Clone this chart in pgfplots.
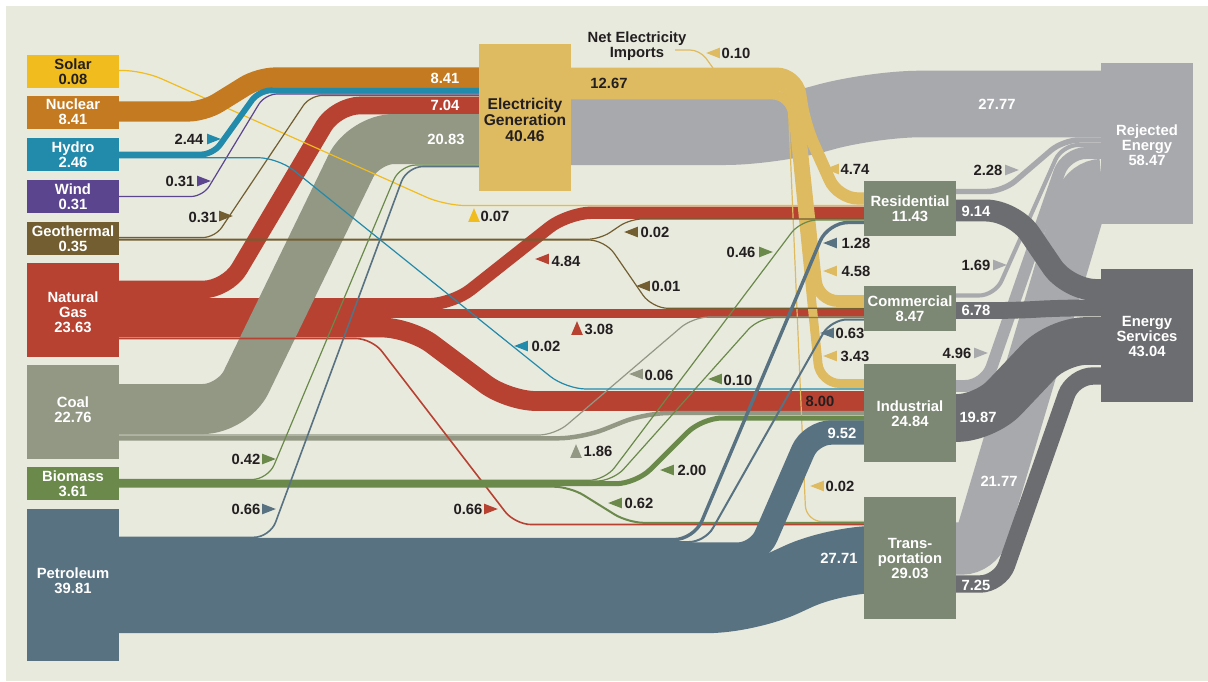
\documentclass[border=0pt]{standalone}
\usepackage{pgfplots}
\pgfplotsset{compat=1.18}
\usepackage{fontspec}
\setmainfont{Liberation Sans}
\definecolor{bg}{RGB}{232,234,222}
\definecolor{solarC}{RGB}{240,188,30}
\definecolor{nucC}{RGB}{196,122,32}
\definecolor{hydC}{RGB}{34,138,170}
\definecolor{windC}{RGB}{91,69,142}
\definecolor{geoC}{RGB}{114,94,48}
\definecolor{ngC}{RGB}{183,66,50}
\definecolor{coalC}{RGB}{146,152,132}
\definecolor{bioC}{RGB}{106,137,74}
\definecolor{petC}{RGB}{88,114,129}
\definecolor{elecC}{RGB}{222,186,96}
\definecolor{sectC}{RGB}{124,136,116}
\definecolor{rejC}{RGB}{168,169,173}
\definecolor{esC}{RGB}{108,109,112}
\definecolor{darkT}{RGB}{35,31,32}
\pgfdeclareplotmark{tR}{\pgfpathmoveto{\pgfqpoint{\pgfplotmarksize}{0pt}}\pgfpathlineto{\pgfqpoint{-\pgfplotmarksize}{0.78\pgfplotmarksize}}\pgfpathlineto{\pgfqpoint{-\pgfplotmarksize}{-0.78\pgfplotmarksize}}\pgfpathclose\pgfusepathqfill}
\pgfdeclareplotmark{tL}{\pgfpathmoveto{\pgfqpoint{-\pgfplotmarksize}{0pt}}\pgfpathlineto{\pgfqpoint{\pgfplotmarksize}{0.78\pgfplotmarksize}}\pgfpathlineto{\pgfqpoint{\pgfplotmarksize}{-0.78\pgfplotmarksize}}\pgfpathclose\pgfusepathqfill}
\pgfdeclareplotmark{tU}{\pgfpathmoveto{\pgfqpoint{0pt}{\pgfplotmarksize}}\pgfpathlineto{\pgfqpoint{0.85\pgfplotmarksize}{-\pgfplotmarksize}}\pgfpathlineto{\pgfqpoint{-0.85\pgfplotmarksize}{-\pgfplotmarksize}}\pgfpathclose\pgfusepathqfill}
\pgfplotsset{fl/.style={no markers, line cap=butt, rounded corners=#1},
  box/.style={fill=#1, draw=none, no markers},
  tri/.style 2 args={only marks, mark=#1, mark size=3.4pt, color=#2, mark options={fill=#2, draw=none}}}
\tikzset{wl/.style={font=\fontsize{7.4}{7.5}\selectfont\bfseries, align=center, inner sep=0pt, text=white},
  dl/.style={wl, text=darkT}}
\begin{document}
\begin{tikzpicture}
\begin{axis}[scale only axis, width=604pt, height=340.5pt, xmin=0, xmax=1208, ymin=0, ymax=681,
  y dir=reverse, hide axis, clip=false]
% background
\addplot[box=white] coordinates {(0,0)(1208,0)(1208,681)(0,681)};
\addplot[box=bg] coordinates {(6,6)(1208,6)(1208,681)(6,681)};
% electricity -> rejected
\addplot[fl=25pt, draw=rejC, line width=33.3pt] coordinates {(571,131.7)(775,131.7)(870,104)(1101,104)};
% sectors -> rejected
\addplot[fl=8pt, draw=rejC, line width=2.74pt] coordinates {(956,191.5)(1003,191.5)(1063,140)(1101,140)};
\addplot[fl=8pt, draw=rejC, line width=2.03pt] coordinates {(956,295.5)(995,295.5)(1062,145)(1101,145)};
\addplot[fl=10pt, draw=rejC, line width=5.95pt] coordinates {(956,386)(985,386)(1066,153)(1101,153)};
\addplot[fl=8pt, draw=rejC, line width=26.1pt] coordinates {(956,548.5)(978,548.5)(1086,185)(1101,185)};
% sectors -> energy services
\addplot[fl=14pt, draw=esC, line width=10.97pt] coordinates {(956,210.5)(1014,210.5)(1068,290)(1101,290)};
\addplot[fl=10pt, draw=esC, line width=8.4pt] coordinates {(956,310.5)(1015,310.5)(1060,308)(1101,308)};
\addplot[fl=14pt, draw=esC, line width=23.85pt] coordinates {(956,418)(985,418)(1058,341)(1101,341)};
\addplot[fl=10pt, draw=esC, line width=8.7pt] coordinates {(956,584)(1000,584)(1073,376)(1101,376)};
% natural gas
\addplot[fl=12pt, draw=ngC, line width=8.8pt] coordinates {(119,289.5)(227,289.5)(336,105.5)(479,105.5)};
\addplot[fl=12pt, draw=ngC, line width=6.2pt] coordinates {(119,304.4)(452,304.4)(568,212.7)(864,212.7)};
\addplot[fl=1pt, draw=ngC, line width=4.1pt] coordinates {(119,313.5)(864,313.5)};
\addplot[fl=14pt, draw=ngC, line width=9.9pt] coordinates {(119,327.5)(410,327.5)(508,401)(864,401)};
% coal
\addplot[fl=15pt, draw=coalC, line width=25pt] coordinates {(119,409)(233,409)(364,139)(479,139)};
\addplot[fl=8pt, draw=coalC, line width=0.6pt] coordinates {(119,435)(555,435)(693,317)(864,317)};
\addplot[fl=12pt, draw=coalC, line width=2.23pt] coordinates {(119,438.3)(582,438.3)(645,413)(864,413)};
\addplot[fl=8pt, draw=ngC, line width=0.8pt] coordinates {(119,338.5)(372,338.5)(515,524.5)(864,524.5)};
% solar
\addplot[fl=10pt, draw=solarC, line width=0.6pt] coordinates {(119,70.5)(143,70.5)(445,205.5)(864,205.5)};
% nuclear, hydro, wind, geothermal -> electricity
\addplot[fl=8pt, draw=nucC, line width=10.09pt] coordinates {(119,111.5)(204,111.5)(259,77.5)(479,77.5)};
\addplot[fl=6pt, draw=hydC, line width=2.93pt] coordinates {(119,154.5)(213,154.5)(259,90.4)(479,90.4)};
\addplot[fl=6pt, draw=windC, line width=0.6pt] coordinates {(119,196.5)(203,196.5)(265,94)(479,94)};
\addplot[fl=6pt, draw=geoC, line width=0.6pt] coordinates {(119,237.5)(215,237.5)(310,95.5)(479,95.5)};
% electricity -> sectors
\addplot[fl=10pt, draw=elecC, line width=6.1pt] coordinates {(571,73.7)(797,73.7)(805,125)(838,198.5)(864,198.5)};
\addplot[fl=10pt, draw=elecC, line width=5.9pt] coordinates {(571,84.7)(795,84.7)(818,301)(864,301)};
\addplot[fl=10pt, draw=elecC, line width=4.5pt] coordinates {(571,94.3)(791,94.3)(820,383.5)(864,383.5)};
\addplot[fl=8pt, draw=elecC, line width=0.6pt] coordinates {(571,98.8)(788,98.8)(806,521.5)(864,521.5)};
\addplot[fl=5pt, draw=elecC, line width=0.6pt] coordinates {(675,50)(700,50)(713,68)};
% geothermal -> residential, commercial
\addplot[fl=6pt, draw=geoC, line width=0.6pt] coordinates {(119,239.2)(600,239.2)(630,219)(864,219)};
\addplot[fl=8pt, draw=geoC, line width=0.6pt] coordinates {(119,240)(605,240)(652,308.3)(864,308.3)};
% hydro -> industrial
\addplot[fl=10pt, draw=hydC, line width=0.6pt] coordinates {(119,157.7)(278,157.7)(566,389)(864,389)};
% biomass
\addplot[fl=8pt, draw=bioC, line width=0.6pt] coordinates {(119,479.5)(268,479.5)(400,165)(479,165)};
\addplot[fl=8pt, draw=bioC, line width=0.6pt] coordinates {(119,480.3)(605,480.3)(801,220)(864,220)};
\addplot[fl=8pt, draw=bioC, line width=0.6pt] coordinates {(119,481)(613,481)(759,317.5)(864,317.5)};
\addplot[fl=10pt, draw=bioC, line width=2.5pt] coordinates {(119,483.7)(636,483.7)(702,418)(864,418)};
\addplot[fl=8pt, draw=bioC, line width=1pt] coordinates {(119,486.7)(570,486.7)(628,522.8)(864,522.8)};
% petroleum
\addplot[fl=8pt, draw=petC, line width=0.8pt] coordinates {(119,537.3)(270,537.3)(407,166.5)(479,166.5)};
\addplot[fl=10pt, draw=petC, line width=1.7pt] coordinates {(119,539.6)(694,539.6)(828,222.5)(864,222.5)};
\addplot[fl=8pt, draw=petC, line width=1pt] coordinates {(119,542)(705,542)(831,319.5)(864,319.5)};
\addplot[fl=10pt, draw=petC, line width=12.2pt] coordinates {(119,554.6)(758,554.6)(811,432.5)(864,432.5)};
\addplot[fl=20pt, draw=petC, line width=33.6pt] coordinates {(119,599.5)(748,599.5)(835,559.5)(864,559.5)};
% boxes
\addplot[box=solarC] coordinates {(27,55)(119,55)(119,88)(27,88)};
\addplot[box=nucC] coordinates {(27,96)(119,96)(119,129)(27,129)};
\addplot[box=hydC] coordinates {(27,138)(119,138)(119,171)(27,171)};
\addplot[box=windC] coordinates {(27,180)(119,180)(119,213)(27,213)};
\addplot[box=geoC] coordinates {(27,222)(119,222)(119,255)(27,255)};
\addplot[box=ngC] coordinates {(27,263)(119,263)(119,357)(27,357)};
\addplot[box=coalC] coordinates {(27,365)(119,365)(119,459)(27,459)};
\addplot[box=bioC] coordinates {(27,467)(119,467)(119,500)(27,500)};
\addplot[box=petC] coordinates {(27,509)(119,509)(119,661)(27,661)};
\addplot[box=elecC] coordinates {(479,44)(571,44)(571,191)(479,191)};
\addplot[box=sectC] coordinates {(864,181)(956,181)(956,236)(864,236)};
\addplot[box=sectC] coordinates {(864,286)(956,286)(956,331)(864,331)};
\addplot[box=sectC] coordinates {(864,364)(956,364)(956,462)(864,462)};
\addplot[box=sectC] coordinates {(864,497)(956,497)(956,619)(864,619)};
\addplot[box=rejC] coordinates {(1101,63)(1193,63)(1193,224)(1101,224)};
\addplot[box=esC] coordinates {(1101,269)(1193,269)(1193,402)(1101,402)};
% triangles
\addplot[tri={tR}{hydC}] coordinates {(214,139)};
\addplot[tri={tR}{windC}] coordinates {(204,181)};
\addplot[tri={tR}{geoC}] coordinates {(226,216)};
\addplot[tri={tR}{bioC}] coordinates {(269,459)};
\addplot[tri={tR}{petC}] coordinates {(269,509)};
\addplot[tri={tR}{ngC}] coordinates {(491,509)};
\addplot[tri={tR}{bioC}] coordinates {(766,252)};
\addplot[tri={tR}{rejC}] coordinates {(1012,170)(1000,265)(981,353)};
\addplot[tri={tL}{elecC}] coordinates {(713,53)(832,169)(830,271)(830,356)(817,486)};
\addplot[tri={tL}{petC}] coordinates {(830,243)(827,333)};
\addplot[tri={tL}{geoC}] coordinates {(631,232)(643,286)};
\addplot[tri={tL}{ngC}] coordinates {(542,259)};
\addplot[tri={tL}{hydC}] coordinates {(521,346)};
\addplot[tri={tL}{coalC}] coordinates {(636,374)};
\addplot[tri={tL}{bioC}] coordinates {(715,379)(667,470)(615,503)};
\addplot[tri={tU}{solarC}] coordinates {(474,215)};
\addplot[tri={tU}{ngC}] coordinates {(577,328)};
\addplot[tri={tU}{coalC}] coordinates {(576,451)};
% box labels
\node[dl] at (axis cs:73,72) {Solar\\0.08};
\node[wl] at (axis cs:73,112) {Nuclear\\8.41};
\node[wl] at (axis cs:73,155) {Hydro\\2.46};
\node[wl] at (axis cs:73,197) {Wind\\0.31};
\node[wl] at (axis cs:73,239) {Geothermal\\0.35};
\node[wl] at (axis cs:73,312) {Natural\\Gas\\23.63};
\node[wl] at (axis cs:73,410) {Coal\\22.76};
\node[wl] at (axis cs:73,484) {Biomass\\3.61};
\node[wl] at (axis cs:73,581) {Petroleum\\39.81};
\node[dl, font=\fontsize{7.8}{7.8}\selectfont\bfseries] at (axis cs:525,120) {Electricity\\Generation\\40.46};
\node[wl] at (axis cs:910,209) {Residential\\11.43};
\node[wl] at (axis cs:910,309) {Commercial\\8.47};
\node[wl] at (axis cs:910,414) {Industrial\\24.84};
\node[wl] at (axis cs:910,558) {Trans-\\portation\\29.03};
\node[wl] at (axis cs:1147,145) {Rejected\\Energy\\58.47};
\node[wl] at (axis cs:1147,336) {Energy\\Services\\43.04};
\node[dl] at (axis cs:637,46) {Net Electricity\\Imports};
% flow labels on bands
\node[wl] at (axis cs:445,78) {8.41};
\node[wl] at (axis cs:445,105) {7.04};
\node[wl] at (axis cs:446,139) {20.83};
\node[wl] at (axis cs:997,104) {27.77};
\node[wl] at (axis cs:842,433) {9.52};
\node[wl] at (axis cs:839,558) {27.71};
\node[wl] at (axis cs:976,211) {9.14};
\node[wl] at (axis cs:976,310) {6.78};
\node[wl] at (axis cs:978,417) {19.87};
\node[wl] at (axis cs:999,481) {21.77};
\node[wl] at (axis cs:976,585) {7.25};
\node[dl] at (axis cs:609,83) {12.67};
\node[dl] at (axis cs:820,401) {8.00};
% flow labels beside triangles
\node[dl] at (axis cs:189,139) {2.44};
\node[dl] at (axis cs:180,181) {0.31};
\node[dl] at (axis cs:203,217) {0.31};
\node[dl] at (axis cs:246,459) {0.42};
\node[dl] at (axis cs:246,509) {0.66};
\node[dl] at (axis cs:468,509) {0.66};
\node[dl] at (axis cs:741,252) {0.46};
\node[dl] at (axis cs:988,170) {2.28};
\node[dl] at (axis cs:976,265) {1.69};
\node[dl] at (axis cs:957,353) {4.96};
\node[dl] at (axis cs:736,53) {0.10};
\node[dl] at (axis cs:855,169) {4.74};
\node[dl] at (axis cs:856,243) {1.28};
\node[dl] at (axis cs:856,271) {4.58};
\node[dl] at (axis cs:850,333) {0.63};
\node[dl] at (axis cs:855,356) {3.43};
\node[dl] at (axis cs:840,486) {0.02};
\node[dl] at (axis cs:655,232) {0.02};
\node[dl] at (axis cs:666,286) {0.01};
\node[dl] at (axis cs:566,261) {4.84};
\node[dl] at (axis cs:546,346) {0.02};
\node[dl] at (axis cs:659,375) {0.06};
\node[dl] at (axis cs:738,380) {0.10};
\node[dl] at (axis cs:692,470) {2.00};
\node[dl] at (axis cs:639,503) {0.62};
\node[dl] at (axis cs:495,216) {0.07};
\node[dl] at (axis cs:599,329) {3.08};
\node[dl] at (axis cs:598,451) {1.86};
\end{axis}
\end{tikzpicture}
\end{document}
